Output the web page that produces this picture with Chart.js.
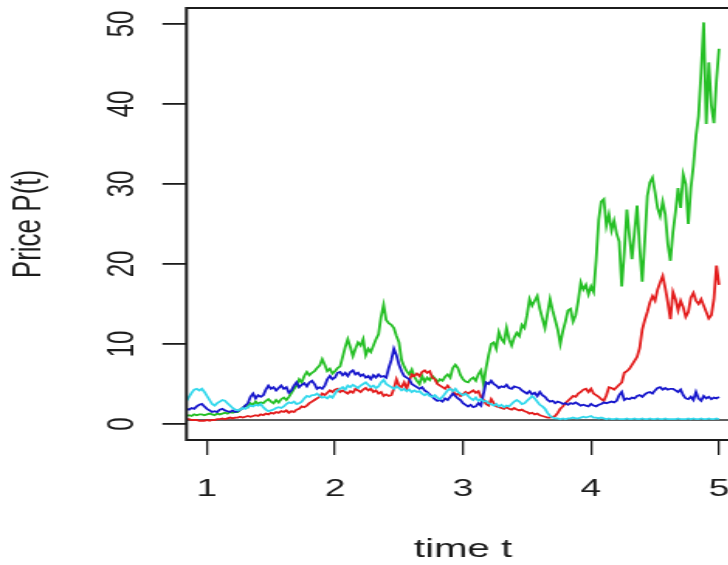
<!DOCTYPE html>
<html>
<head>
<meta charset="utf-8">
<title>Price paths</title>
<script src="https://cdn.jsdelivr.net/npm/chart.js@4.4.1/dist/chart.umd.min.js"></script>
<style>
    html, body { margin: 0; padding: 0; background: #fff; overflow: hidden; }
    #wrap { width: 728px; height: 565px; overflow: hidden; }
    /* the plot is drawn narrow and stretched sideways */
    #paths { transform: scaleX(1.55); transform-origin: 0 0; }
</style>
</head>
<body>
<div id="wrap"><canvas id="paths" width="480" height="565"></canvas></div>
<script>
// Sampling grid: t = 0.84, 0.86, ... 5.00
const tStart = 0.84, tStep = 0.02, nSteps = 209;
const times = [];
for (let i = 0; i < nSteps; i++) times.push(+(tStart + i * tStep).toFixed(2));

const xTicks = [1, 2, 3, 4, 5];
const yTicks = [0, 10, 20, 30, 40, 50];
const floorLevel = 0.5;

// price paths, one row = 10 steps
const green = [
    1.0, 1.1, 1.0, 1.2, 1.1, 1.2, 1.2, 1.1, 1.2, 1.3,
    1.2, 1.1, 1.3, 1.2, 1.3, 1.4, 1.3, 1.5, 1.4, 1.5,
    1.5, 1.8, 2.0, 2.3, 2.1, 2.6, 2.4, 2.8, 2.5, 2.7,
    2.6, 2.9, 3.1, 2.8, 2.6, 3.0, 2.7, 3.1, 3.3, 3.0,
    3.4, 3.9, 4.4, 4.8, 5.6, 5.2, 6.0, 6.5, 6.1, 6.4,
    6.6, 7.0, 7.3, 8.1, 7.4, 6.6, 6.9, 6.3, 6.6, 7.0,
    7.2, 8.4, 9.6, 10.6, 9.6, 8.5, 9.4, 10.2, 9.8, 10.6,
    8.6, 9.4, 9.0, 9.8, 10.6, 11.2, 13.4, 14.9, 13.0, 12.6,
    12.4, 12.0, 11.0, 10.2, 8.0, 7.2, 6.6, 6.2, 6.8, 5.9,
    5.4, 5.0, 6.0, 5.3, 5.8, 5.5, 6.0, 5.7, 5.2, 5.6,
    5.4, 5.9, 6.2, 5.8, 7.0, 7.4, 7.0, 6.1, 5.6, 5.3,
    5.2, 5.6, 5.8, 5.4, 6.2, 6.7, 5.0, 7.0, 8.6, 10.0,
    10.2, 9.4, 11.5, 10.6, 10.2, 12.0, 10.6, 9.8, 10.8, 11.4,
    11.0, 12.4, 12.0, 13.6, 15.6, 14.8, 15.4, 16.0, 14.4, 13.2,
    12.0, 13.8, 15.6, 14.2, 13.0, 11.8, 10.0, 11.6, 12.8, 14.2,
    14.4, 12.8, 13.6, 15.4, 17.7, 16.8, 17.4, 16.2, 17.2, 16.5,
    20.5, 25.5, 27.8, 28.1, 24.8, 26.2, 24.2, 25.4, 23.8, 22.8,
    17.2, 21.5, 26.8, 23.5, 20.6, 24.0, 27.3, 22.0, 17.8, 23.0,
    28.5, 30.2, 30.8, 29.0, 27.0, 26.0, 27.8, 26.2, 22.5, 20.4,
    24.0, 26.5, 29.5, 27.0, 31.2, 30.0, 25.0, 29.5, 32.3, 36.0,
    38.5, 44.0, 50.2, 37.5, 45.2, 39.8, 37.6, 43.0, 46.9
];

const red = [
    0.6, 0.6, 0.5, 0.5, 0.5, 0.4, 0.4, 0.4, 0.5, 0.4,
    0.5, 0.5, 0.6, 0.6, 0.7, 0.6, 0.7, 0.8, 0.7, 0.8,
    0.8, 0.9, 0.8, 0.9, 1.0, 0.9, 1.0, 1.1, 1.0, 1.2,
    1.1, 1.3, 1.2, 1.4, 1.3, 1.5, 1.4, 1.6, 1.5, 1.7,
    1.4, 1.6, 1.5, 1.8, 1.9, 2.2, 2.1, 2.3, 2.6, 2.8,
    3.0, 3.2, 3.4, 3.8, 3.6, 3.9, 4.2, 4.0, 4.3, 4.4,
    4.0, 4.2, 4.0, 3.8, 4.1, 3.9, 4.4, 4.2, 4.0, 4.3,
    4.5, 4.2, 4.4, 4.0, 4.2, 3.8, 4.0, 3.5, 3.7, 3.5,
    3.6, 4.4, 5.6, 4.8, 4.6, 5.2, 4.4, 5.4, 6.2, 6.0,
    6.3, 6.0, 6.5, 6.7, 6.4, 6.6, 5.8, 5.6, 5.0, 4.8,
    4.6, 4.4, 4.8, 4.4, 4.2, 3.6, 3.8, 3.5, 3.7, 4.0,
    3.8, 4.0, 4.2, 3.9, 4.1, 3.4, 3.0, 2.5, 2.3, 3.1,
    2.6, 2.2, 2.1, 2.0, 1.9, 2.1, 1.9, 1.8, 2.0, 1.8,
    1.7, 1.8, 1.6, 1.5, 1.3, 1.4, 1.2, 1.3, 1.1, 1.0,
    0.9, 0.8, 0.8, 0.9, 1.0, 1.4, 1.9, 2.2, 2.6, 2.9,
    3.2, 3.5, 3.4, 3.8, 4.0, 4.3, 4.4, 4.0, 4.4, 3.8,
    3.6, 3.4, 3.1, 2.9, 3.6, 4.6, 4.5, 4.3, 4.6, 4.9,
    5.2, 6.4, 6.6, 6.9, 7.4, 7.9, 8.4, 9.5, 11.8, 13.0,
    14.0, 15.2, 16.0, 15.4, 16.8, 17.7, 18.5, 17.0, 15.2, 13.1,
    16.5, 15.6, 14.2, 15.4, 14.6, 13.4, 14.0, 15.8, 16.4, 15.4,
    15.0, 15.6, 14.8, 14.0, 13.2, 13.6, 15.6, 19.8, 17.4
];

const blue = [
    1.9, 1.8, 2.0, 1.9, 2.2, 2.4, 2.5, 2.2, 1.9, 1.7,
    1.5, 1.6, 1.5, 1.8, 1.9, 1.7, 1.6, 1.5, 1.7, 1.5,
    1.6, 1.8, 2.0, 2.3, 2.6, 3.4, 3.8, 3.2, 3.6, 3.4,
    3.6, 4.3, 4.8, 4.4, 4.6, 4.2, 4.5, 4.8, 4.4, 4.6,
    3.9, 4.2, 4.8, 5.2, 4.6, 4.9, 5.1, 4.7, 5.2, 5.4,
    5.0, 4.4, 4.6, 4.4, 4.8, 5.6, 6.0, 5.6, 5.8, 6.4,
    6.5, 6.1, 6.4, 6.0, 6.5, 6.7, 6.2, 6.4, 6.0, 6.2,
    5.8, 6.0, 5.6, 6.1, 5.8, 6.2, 5.9, 6.0, 5.8, 7.0,
    8.0, 9.4, 8.6, 7.4, 6.6, 6.0, 5.8, 5.6, 5.0, 4.8,
    4.6, 4.4, 4.6, 4.2, 4.0, 3.7, 3.4, 3.1, 2.9, 3.0,
    2.8, 3.2, 3.0, 3.4, 3.8, 3.5, 3.2, 3.0, 2.6, 2.4,
    2.2, 2.4, 2.1, 2.2, 2.6, 2.3, 3.8, 5.2, 5.0, 5.4,
    5.0, 4.8, 4.5, 4.7, 4.6, 4.9, 4.5, 4.4, 4.7, 4.6,
    4.5, 4.2, 4.0, 3.8, 4.1, 3.7, 3.9, 3.5, 4.0, 3.6,
    3.4, 3.0, 2.8, 2.9, 2.6, 2.8, 2.7, 2.5, 2.6, 2.4,
    2.6, 2.5, 2.7, 2.5, 2.3, 2.4, 2.3, 2.2, 2.5, 2.3,
    2.2, 2.4, 2.5, 2.7, 2.6, 2.7, 2.8, 2.7, 2.9, 3.6,
    4.0, 3.0, 3.2, 3.1, 3.3, 3.2, 3.5, 3.6, 3.4, 3.7,
    3.9, 4.0, 3.8, 4.2, 4.5, 4.6, 4.3, 4.5, 4.3, 4.4,
    4.4, 4.2, 4.0, 4.3, 3.6, 3.2, 3.1, 3.4, 3.0, 4.0,
    3.2, 2.9, 3.5, 3.2, 3.4, 3.1, 3.3, 3.2, 3.4
];

const cyan = [
    2.9, 3.4, 3.9, 4.3, 4.4, 4.2, 4.4, 4.0, 3.5, 3.0,
    2.5, 2.3, 2.6, 2.8, 3.0, 2.9, 2.6, 2.3, 2.0, 1.8,
    1.7, 1.8, 2.0, 1.9, 2.1, 2.3, 2.2, 2.4, 2.3, 2.5,
    2.1, 1.8, 1.6, 1.7, 1.8, 2.0, 2.1, 2.0, 2.2, 2.5,
    2.7, 2.6, 2.8, 2.5, 2.6, 2.8, 3.2, 3.5, 3.4, 3.6,
    3.6, 3.8, 3.5, 3.3, 3.4, 3.2, 3.5, 3.3, 3.8, 4.2,
    4.4, 4.6, 4.3, 4.8, 4.6, 4.9, 4.7, 4.5, 4.8, 5.0,
    5.2, 4.9, 4.6, 4.8, 4.5, 4.7, 5.2, 5.5, 5.0, 4.8,
    4.6, 4.4, 4.7, 4.5, 4.2, 4.4, 4.1, 4.3, 4.0, 4.2,
    4.0, 4.1, 3.8, 3.6, 3.8, 3.5, 3.4, 3.6, 3.3, 3.1,
    3.4, 3.8, 4.2, 4.4, 4.1, 4.4, 4.0, 3.8, 3.6, 3.8,
    3.5, 3.2, 3.0, 3.3, 2.9, 3.1, 2.8, 2.9, 2.6, 2.5,
    2.3, 2.5, 2.2, 2.4, 2.1, 2.3, 2.2, 2.5, 2.8, 3.0,
    2.8, 2.5, 2.6, 2.9, 3.2, 3.5, 3.2, 2.8, 2.4, 2.2,
    1.9, 1.4, 1.0, 0.8, 0.7, 0.7, 0.6, 0.7, 0.6, 0.7,
    0.7, 0.8, 0.7, 0.7, 0.8, 0.9, 0.8, 0.9, 1.0, 0.8,
    0.8, 0.7, 0.8, 0.7, 0.6, 0.7, 0.6, 0.6, 0.7, 0.6,
    0.6, 0.6, 0.7, 0.6, 0.6, 0.7, 0.6, 0.6, 0.7, 0.6,
    0.6, 0.7, 0.6, 0.6, 0.7, 0.6, 0.6, 0.7, 0.6, 0.6,
    0.6, 0.6, 0.7, 0.6, 0.6, 0.6, 0.7, 0.6, 0.7, 0.6,
    0.6, 0.7, 0.6, 0.6, 0.7, 0.6, 0.6, 0.7, 0.6
];

const X_MIN = 0.84, X_MAX = 5.16, Y_MIN = -2, Y_MAX = 52;
const INK = '#1c1c1c';
const FONT = '"Liberation Sans", Arial, sans-serif';

function path(values) {
    return values.map((v, i) => ({ x: times[i], y: v }));
}

function series(values, color) {
    return {
        data: path(values),
        borderColor: color,
        borderWidth: 1.8,
        pointRadius: 0,
        tension: 0,
        fill: false
    };
}

// frame round the plotting region
const frame = {
    id: 'frame',
    afterDatasetsDraw(chart) {
        const a = chart.chartArea, ctx = chart.ctx;
        ctx.save();
        ctx.strokeStyle = INK;
        ctx.lineWidth = 2;
        ctx.strokeRect(a.left, a.top, a.right - a.left, a.bottom - a.top);
        ctx.restore();
    }
};

// y tick labels written upright along the axis
const yLabels = {
    id: 'yLabels',
    afterDraw(chart) {
        const scale = chart.scales.y, ctx = chart.ctx;
        ctx.save();
        ctx.fillStyle = INK;
        ctx.font = '24px ' + FONT;
        ctx.textAlign = 'center';
        ctx.textBaseline = 'alphabetic';
        scale.ticks.forEach(t => {
            ctx.save();
            ctx.translate(86, scale.getPixelForValue(t.value));
            ctx.rotate(-Math.PI / 2);
            ctx.fillText(String(t.value), 0, 0);
            ctx.restore();
        });
        ctx.restore();
    }
};

const floorLine = {
    data: [{ x: X_MIN, y: floorLevel }, { x: X_MAX, y: floorLevel }],
    borderColor: '#606060',
    borderWidth: 2.2,
    pointRadius: 0
};

new Chart(document.getElementById('paths'), {
    type: 'line',
    data: {
        datasets: [
            series(cyan, '#33d8ec'),
            series(blue, '#1717cc'),
            series(red, '#e31c1c'),
            series(green, '#25bf25'),
            floorLine
        ]
    },
    options: {
        responsive: false,
        devicePixelRatio: 1,
        animation: false,
        layout: { padding: { top: 8, right: 2.9, bottom: 0, left: 0 } },
        plugins: { legend: { display: false }, tooltip: { enabled: false } },
        scales: {
            x: {
                type: 'linear',
                min: X_MIN,
                max: X_MAX,
                afterBuildTicks: s => { s.ticks = xTicks.map(v => ({ value: v })); },
                afterFit: s => { s.height = 125; s.paddingLeft = 0; s.paddingRight = 0; },
                border: { display: false },
                grid: { drawOnChartArea: false, tickLength: 15, lineWidth: 1.3, color: INK },
                ticks: {
                    autoSkip: false, maxRotation: 0, padding: 20, color: INK,
                    font: { family: FONT, size: 24 }
                },
                title: {
                    display: true, text: 'time t', color: INK,
                    font: { family: FONT, size: 26 },
                    padding: { top: 0, bottom: 0 }
                }
            },
            y: {
                min: Y_MIN,
                max: Y_MAX,
                afterBuildTicks: s => { s.ticks = yTicks.map(v => ({ value: v })); },
                afterFit: s => { s.width = 120.3; s.paddingTop = 0; s.paddingBottom = 0; },
                border: { display: false },
                grid: { drawOnChartArea: false, tickLength: 15.5, lineWidth: 1.8, color: INK },
                ticks: { display: false },
                title: {
                    display: true, text: 'Price P(t)', color: INK,
                    font: { family: FONT, size: 26 },
                    padding: { top: 3, bottom: 0 }
                }
            }
        }
    },
    plugins: [frame, yLabels]
});
</script>
</body>
</html>
